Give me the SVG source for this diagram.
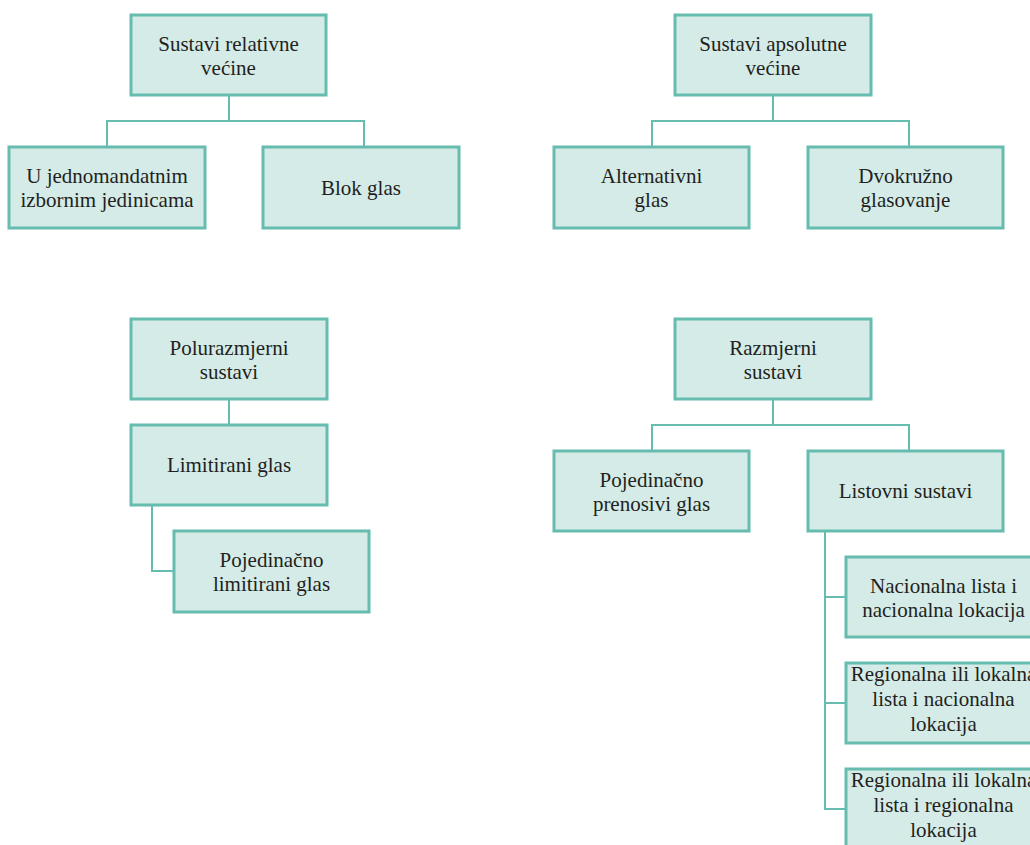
<svg xmlns="http://www.w3.org/2000/svg" width="1030" height="845" viewBox="0 0 1030 845">
<style>
.box{fill:#d4ebe7;stroke:#66bcae;stroke-width:3}
.t{font-family:"Liberation Serif","Times New Roman",serif;font-size:21px;fill:#231f20;text-anchor:middle}
.c{fill:none;stroke:#66bcae;stroke-width:2}
</style>
<rect width="1030" height="845" fill="#ffffff"/>
<g id="connectors">
<path class="c" d="M229 95V121M107 147V121H364V147"/>
<path class="c" d="M773 95V121M652 147V121H909V147"/>
<path class="c" d="M229 399V425"/>
<path class="c" d="M152 505V571H174"/>
<path class="c" d="M773 399V425M652 451V425H909V451"/>
<path class="c" d="M825 531V809H846M825 597H846M825 703H846"/>
</g>
<g id="n1"><rect class="box" x="131" y="15" width="195" height="80"/><text class="t" x="228.5" y="50.5">Sustavi relativne</text><text class="t" x="228.5" y="75">većine</text></g>
<g id="n2"><rect class="box" x="9" y="147" width="196" height="81"/><text class="t" x="107" y="182.5">U jednomandatnim</text><text class="t" x="107" y="207">izbornim jedinicama</text></g>
<g id="n3"><rect class="box" x="263" y="147" width="196" height="81"/><text class="t" x="361" y="195">Blok glas</text></g>
<g id="n4"><rect class="box" x="675" y="15" width="196" height="80"/><text class="t" x="773" y="50.5">Sustavi apsolutne</text><text class="t" x="773" y="75">većine</text></g>
<g id="n5"><rect class="box" x="554" y="147" width="195" height="81"/><text class="t" x="651.5" y="182.5">Alternativni</text><text class="t" x="651.5" y="207">glas</text></g>
<g id="n6"><rect class="box" x="808" y="147" width="195" height="81"/><text class="t" x="905.5" y="182.5">Dvokružno</text><text class="t" x="905.5" y="207">glasovanje</text></g>
<g id="n7"><rect class="box" x="131" y="319" width="196" height="80"/><text class="t" x="229" y="354.5">Polurazmjerni</text><text class="t" x="229" y="379">sustavi</text></g>
<g id="n8"><rect class="box" x="131" y="425" width="196" height="80"/><text class="t" x="229" y="472">Limitirani glas</text></g>
<g id="n9"><rect class="box" x="174" y="531" width="195" height="81"/><text class="t" x="271.5" y="566.5">Pojedinačno</text><text class="t" x="271.5" y="591">limitirani glas</text></g>
<g id="n10"><rect class="box" x="675" y="319" width="196" height="80"/><text class="t" x="773" y="354.5">Razmjerni</text><text class="t" x="773" y="379">sustavi</text></g>
<g id="n11"><rect class="box" x="554" y="451" width="195" height="80"/><text class="t" x="651.5" y="486.5">Pojedinačno</text><text class="t" x="651.5" y="511">prenosivi glas</text></g>
<g id="n12"><rect class="box" x="808" y="451" width="195" height="80"/><text class="t" x="905.5" y="498">Listovni sustavi</text></g>
<g id="n13"><rect class="box" x="846" y="557" width="195" height="80"/><text class="t" x="943.5" y="592.5">Nacionalna lista i</text><text class="t" x="943.5" y="617">nacionalna lokacija</text></g>
<g id="n14"><rect class="box" x="846" y="663" width="195" height="80"/><text class="t" x="943.5" y="681">Regionalna ili lokalna</text><text class="t" x="943.5" y="706">lista i nacionalna</text><text class="t" x="943.5" y="731">lokacija</text></g>
<g id="n15"><rect class="box" x="846" y="769" width="195" height="80"/><text class="t" x="943.5" y="787">Regionalna ili lokalna</text><text class="t" x="943.5" y="812">lista i regionalna</text><text class="t" x="943.5" y="837">lokacija</text></g>
</svg>
